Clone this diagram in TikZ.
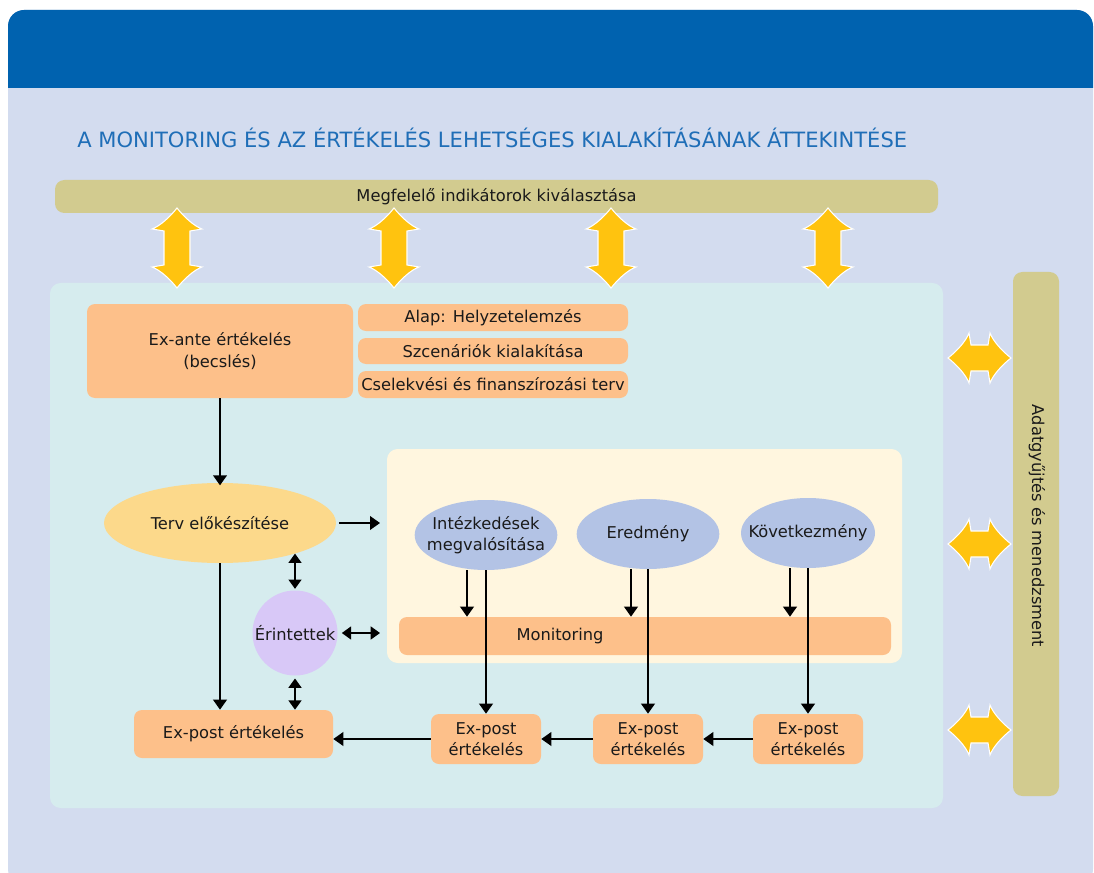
\documentclass[tikz,border=0pt]{standalone}
\usepackage{fontspec}
\setmainfont{DejaVu Sans}
\usetikzlibrary{arrows.meta,shapes.geometric,fit,calc}
\definecolor{hdr}{HTML}{0062AF}
\definecolor{bodyc}{HTML}{D3DCEF}
\definecolor{panelc}{HTML}{D6ECEE}
\definecolor{olivec}{HTML}{D2CB8F}
\definecolor{orangec}{HTML}{FDC08A}
\definecolor{yelc}{HTML}{FFC30F}
\definecolor{tervc}{HTML}{FCD98B}
\definecolor{bluec}{HTML}{B3C3E5}
\definecolor{lavc}{HTML}{D8C8F7}
\definecolor{creamc}{HTML}{FFF6DF}
\definecolor{titlec}{HTML}{1F6EB7}
\definecolor{txtc}{HTML}{1A1A1A}
\newcommand\yarr[4]{%
 \begin{scope}[shift={(#1,#2)},rotate=#4]
 \filldraw[fill=yelc, draw=white, line width=0.8pt]
  (0,-#3) .. controls (-7,{-#3+9}) and (-17,{-#3+18}) .. (-25,{-#3+21})
  -- (-13,{-#3+23}) -- (-13,{#3-23}) -- (-25,{#3-21})
  .. controls (-17,{#3-18}) and (-7,{#3-9}) .. (0,#3)
  .. controls (7,{#3-9}) and (17,{#3-18}) .. (25,{#3-21})
  -- (13,{#3-23}) -- (13,{-#3+23}) -- (25,{-#3+21})
  .. controls (17,{-#3+18}) and (7,{-#3+9}) .. (0,-#3) -- cycle;
 \end{scope}}
\begin{document}
\begin{tikzpicture}[x=0.75pt,y=-0.75pt,
  font=\fontsize{12.2}{16}\selectfont, text=txtc,
  box/.style={fill=orangec, rounded corners=6pt, inner sep=0pt},
  olivebox/.style={fill=olivec, rounded corners=7pt, inner sep=0pt},
  ctext/.style={label={[align=center, inner sep=0pt]center:#1}},
  ell/.style={ellipse, inner sep=0pt, align=center},
  arr/.style={line width=2.2pt, draw=black, -{Triangle[length=7.5pt,width=10pt]}},
  darr/.style={line width=2.2pt, draw=black, {Triangle[length=7pt,width=9.5pt]}-{Triangle[length=7pt,width=9.5pt]}}]
\useasboundingbox (0,0) rectangle (1094,873);
\clip (0,0) rectangle (1094,873);
\fill[white] (0,0) rectangle (1094,873);
\fill[bodyc, rounded corners=12pt] (8,10) rectangle (1093,885);
\begin{scope}
 \clip[rounded corners=12pt] (8,10) rectangle (1093,885);
 \fill[hdr] (0,0) rectangle (1094,88);
\end{scope}
% title
\node[anchor=base west, inner sep=0pt, text=titlec, font=\fontsize{15.8}{18}\selectfont] (title) at (77,148)
 {A MONITORING ÉS AZ ÉRTÉKELÉS LEHETSÉGES KIALAKÍTÁSÁNAK ÁTTEKINTÉSE};
% bars and panels
\node[olivebox, fit={(55,180) (938,213)}, ctext={Megfelelő indikátorok kiválasztása}] (ind) {};
\node[fill=panelc, rounded corners=8pt, inner sep=0pt, fit={(50,283) (943,808)}] (panel) {};
\node[olivebox, fit={(1013,272) (1059,796)}] (adat) {};
\node[rotate=-90, inner sep=0pt] (adatl) at (1037,526) {Adatgyűjtés és menedzsment};
% yellow arrows
\yarr{177}{248}{40}{0}
\yarr{394}{248}{40}{0}
\yarr{611}{248}{40}{0}
\yarr{828}{248}{40}{0}
\yarr{979.5}{358}{31.5}{90}
\yarr{979.5}{544}{31.5}{90}
\yarr{979.5}{730}{31.5}{90}
% upper boxes
\node[box, fit={(87,304) (353,398)}, ctext={Ex-ante értékelés\\(becslés)}] (exante) {};
\node[box, fit={(358,304) (628,331)}, ctext={Alap: Helyzetelemzés}] (alap) {};
\node[box, fit={(358,338) (628,364)}, ctext={Szcenáriók kialakítása}] (szcen) {};
\node[box, fit={(358,371) (628,398)}, ctext={Cselekvési és finanszírozási terv}] (csel) {};
% cream panel
\node[fill=creamc, rounded corners=8pt, inner sep=0pt, fit={(387,449) (902,663)}] (cream) {};
\node[box, fit={(399,617) (891,655)}] (mon) {};
\node[inner sep=0pt] (monl) at (560,636) {Monitoring};
% ellipses
\node[ell, fill=tervc, minimum width=174pt, minimum height=60pt] (terv) at (220,523) {};
\node (tervl) at (terv.center) {Terv előkészítése};
\node[ell, fill=bluec, minimum width=107pt, minimum height=52.5pt] (int) at (486,535) {};
\node[align=center] (intl) at (int.center) {Intézkedések\\megvalósítása};
\node[ell, fill=bluec, minimum width=107pt, minimum height=52.5pt] (ered) at (648,534) {};
\node (eredl) at (ered.center) {Eredmény};
\node[ell, fill=bluec, minimum width=100.5pt, minimum height=52.5pt] (kov) at (808,533) {};
\node (kovl) at (kov.center) {Következmény};
\node[circle, fill=lavc, minimum size=63.75pt, inner sep=0pt] (erint) at (295,633) {};
\node (erintl) at (erint.center) {Érintettek};
% ex-post boxes
\node[box, fit={(431,714) (541,764)}, ctext={Ex-post\\értékelés}] (e1) {};
\node[box, fit={(593,714) (703,764)}, ctext={Ex-post\\értékelés}] (e2) {};
\node[box, fit={(753,714) (863,764)}, ctext={Ex-post\\értékelés}] (e3) {};
\node[box, fit={(134,710) (333,758)}, ctext={Ex-post értékelés}] (bigex) {};
% connectors
\draw[arr] (exante.south) -- ([yshift=-2pt]terv.north);
\draw[arr] ([xshift=2pt]terv.east) -- ([xshift=-5pt]terv.east -| cream.west);
\draw[arr] (terv.south) -- (terv.south |- bigex.north);
\draw[darr] ([yshift=1pt]erint.north) -- (erint.north |- terv.-22);
\draw[darr] ([yshift=-2pt]erint.south) -- (erint.south |- bigex.north);
\draw[darr] ([xshift=3pt]erint.east) -- ([xshift=-5pt]erint.east -| cream.west);
\coordinate (s1) at ($(int.south)+(-19,0)$);
\coordinate (s2) at ($(ered.south)+(-17,0)$);
\coordinate (s3) at ($(kov.south)+(-18,0)$);
\draw[arr] (s1) -- (s1 |- mon.north);
\draw[arr] (s2) -- (s2 |- mon.north);
\draw[arr] (s3) -- (s3 |- mon.north);
\draw[arr] (int.south) -- (int.south |- e1.north);
\draw[arr] (ered.south) -- (ered.south |- e2.north);
\draw[arr] (kov.south) -- (kov.south |- e3.north);
\draw[arr] (e3.west) -- (e2.east);
\draw[arr] (e2.west) -- (e1.east);
\draw[arr] (e1.west) -- (e1.west -| bigex.east);
\end{tikzpicture}
\end{document}
